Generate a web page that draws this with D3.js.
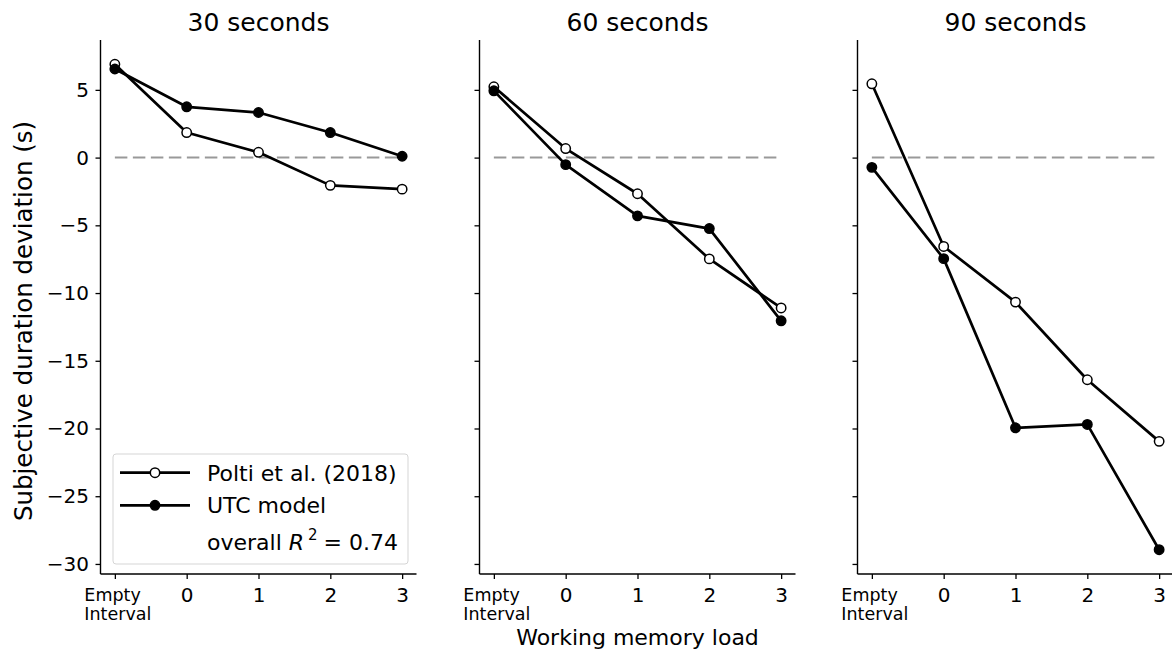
<!DOCTYPE html>
<html>
<head>
<meta charset="utf-8">
<script src="https://cdn.jsdelivr.net/npm/d3@7"></script>
<style>
  html, body { margin: 0; padding: 0; background: #fff; }
  svg { display: block; font-family: "DejaVu Sans", sans-serif; }
</style>
</head>
<body>
<svg id="chart" width="1172" height="652"></svg>
<script>
// Working memory load conditions on the x axis
const categories = ["Empty\nInterval", "0", "1", "2", "3"];
// Interval durations, one panel each
const durations = ["30 seconds", "60 seconds", "90 seconds"];
// Observed deviations (Polti et al., 2018), one row per duration
const poltiValues = [
  [6.89, 1.85, 0.39, -2.05, -2.33],
  [5.23, 0.67, -2.67, -7.48, -11.1],
  [5.45, -6.56, -10.67, -16.4, -20.95]
];
// UTC model predictions, one row per duration
const utcValues = [
  [6.54, 3.75, 3.33, 1.85, 0.1],
  [4.93, -0.52, -4.3, -5.24, -12.05],
  [-0.72, -7.46, -19.95, -19.7, -28.95]
];
const yTicks = [-30, -25, -20, -15, -10, -5, 0, 5];
const seriesNames = ["Polti et al. (2018)", "UTC model"];

const svg = d3.select("#chart");
const panelLefts = [100.5, 479.5, 857.5];
const panelWidth = 316;
const plotTop = 40, plotBottom = 574;

// shared y range with 5% padding like matplotlib autoscaling
const all = poltiValues.flat().concat(utcValues.flat());
const yMin = d3.min(all), yMax = d3.max(all);
const pad = (yMax - yMin) * 0.05;
const y = d3.scaleLinear().domain([yMin - pad, yMax + pad]).range([plotBottom, plotTop]);

const lineW = 2.7;

durations.forEach((title, p) => {
  const left = panelLefts[p];
  const x = d3.scaleLinear().domain([-0.2, categories.length - 1 + 0.2]).range([left, left + panelWidth]);
  const g = svg.append("g");

  // reference line at zero deviation
  g.append("line")
    .attr("x1", x(0)).attr("x2", x(categories.length - 1))
    .attr("y1", y(0)).attr("y2", y(0))
    .attr("stroke", "#999").attr("stroke-width", 2)
    .attr("stroke-dasharray", "12.5,5.5");

  const line = d3.line().x((d, i) => x(i)).y(d => y(d));
  [poltiValues[p], utcValues[p]].forEach((vals, s) => {
    g.append("path").datum(vals)
      .attr("d", line).attr("fill", "none")
      .attr("stroke", "#000").attr("stroke-width", lineW)
      .attr("stroke-linejoin", "round");
    g.selectAll(null).data(vals).enter().append("circle")
      .attr("cx", (d, i) => x(i)).attr("cy", d => y(d))
      .attr("r", 4.7)
      .attr("fill", s === 0 ? "#fff" : "#000")
      .attr("stroke", "#000").attr("stroke-width", 1.5);
  });

  // y axis
  const ya = d3.axisLeft(y).tickValues(yTicks).tickSize(5).tickPadding(6.5)
    .tickFormat(p === 0 ? (d => d < 0 ? "\u2212" + Math.abs(d) : d) : () => "");
  const yg = g.append("g").attr("transform", `translate(${left},0)`).call(ya);
  yg.select(".domain").attr("d", `M0,${plotTop}V${plotBottom}`).attr("stroke-width", 1.4);
  yg.selectAll(".tick line").attr("stroke-width", 1.3);
  yg.selectAll(".tick text").attr("font-size", 20).attr("fill", "#000")
    .attr("font-family", "DejaVu Sans");

  // x axis
  const xa = d3.axisBottom(x).tickValues(d3.range(categories.length)).tickSize(5)
    .tickPadding(8.4).tickFormat(i => categories[i]);
  const xg = g.append("g").attr("transform", `translate(0,${plotBottom})`).call(xa);
  xg.select(".domain").attr("d", `M${left},0H${left + panelWidth}`).attr("stroke-width", 1.4);
  xg.selectAll(".tick line").attr("stroke-width", 1.3);
  xg.selectAll(".tick text").attr("font-size", 20).attr("fill", "#000")
    .attr("font-family", "DejaVu Sans")
    .each(function(i) {
      const parts = categories[i].split("\n");
      if (parts.length > 1) {
        const t = d3.select(this).text("").attr("font-size", 17.5)
          .attr("text-anchor", "start").attr("dy", null).attr("y", 27.4);
        parts.forEach((s, k) => t.append("tspan").attr("x", 0).attr("dy", k === 0 ? 0 : 18.3).text(s));
        const w = this.getBBox().width;
        t.selectAll("tspan").attr("x", -w / 2 + 2.5);
      }
    });

  // panel title
  svg.append("text")
    .attr("x", left + panelWidth / 2).attr("y", 31)
    .attr("text-anchor", "middle").attr("font-size", 25)
    .text(title);
});

// axis labels
svg.append("text")
  .attr("transform", `translate(31.5,321) rotate(-90)`)
  .attr("text-anchor", "middle").attr("font-size", 24.5)
  .text("Subjective duration deviation (s)");
svg.append("text")
  .attr("x", panelLefts[1] + panelWidth / 2).attr("y", 645)
  .attr("text-anchor", "middle").attr("font-size", 22)
  .text("Working memory load");

// legend in the first panel
const lg = svg.append("g");
lg.append("rect").attr("x", 113).attr("y", 454).attr("width", 295).attr("height", 110)
  .attr("rx", 3).attr("fill", "#fff").attr("fill-opacity", 0.8)
  .attr("stroke", "#d5d5d5").attr("stroke-width", 1);
const rowsY = [472.7, 505.3];
seriesNames.forEach((name, s) => {
  lg.append("line").attr("x1", 120).attr("x2", 190)
    .attr("y1", rowsY[s]).attr("y2", rowsY[s])
    .attr("stroke", "#000").attr("stroke-width", lineW);
  lg.append("circle").attr("cx", 155).attr("cy", rowsY[s]).attr("r", 4.7)
    .attr("fill", s === 0 ? "#fff" : "#000").attr("stroke", "#000").attr("stroke-width", 1.5);
  lg.append("text").attr("x", 207).attr("y", rowsY[s]).attr("dy", "0.36em")
    .attr("font-size", 22).text(name);
});
const r2 = lg.append("text").attr("x", 207).attr("y", 541.7).attr("dy", "0.36em").attr("font-size", 22);
r2.append("tspan").text("overall ");
r2.append("tspan").attr("font-style", "italic").text("R");
r2.append("tspan").attr("font-size", 15).attr("dy", "-0.64em").attr("dx", 4).text("2");
r2.append("tspan").attr("dy", "0.44em").attr("dx", 6).text("= 0.74");
</script>
</body>
</html>
